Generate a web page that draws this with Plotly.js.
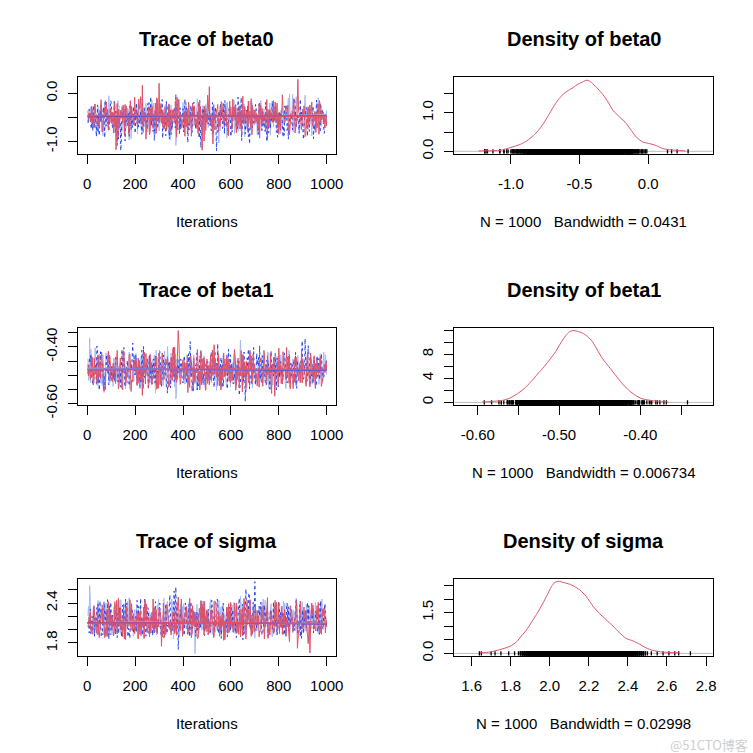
<!DOCTYPE html>
<html><head><meta charset="utf-8">
<script src="https://cdn.plot.ly/plotly-3.0.1.min.js"></script>
<style>html,body{margin:0;padding:0;background:#fff}#chart{width:753px;height:753px}</style>
</head><body><div id="chart"></div>
<script>
// ---------------- DATA ----------------
// samples at four interleaved iteration sets
const iterationsC = [3,13,23,33,43,53,63,73,83,93,103,113,123,133,143,153,163,173,183,193,203,213,223,233,243,253,263,273,283,293,303,313,323,333,343,353,363,373,383,393,403,413,423,433,443,453,463,473,483,493,503,513,523,533,543,553,563,573,583,593,603,613,623,633,643,653,663,673,683,693,703,713,723,733,743,753,763,773,783,793,803,813,823,833,843,853,863,873,883,893,903,913,923,933,943,953,963,973,983,993];
const iterationsB = [5,15,25,35,45,55,65,75,85,95,105,115,125,135,145,155,165,175,185,195,205,215,225,235,245,255,265,275,285,295,305,315,325,335,345,355,365,375,385,395,405,415,425,435,445,455,465,475,485,495,505,515,525,535,545,555,565,575,585,595,605,615,625,635,645,655,665,675,685,695,705,715,725,735,745,755,765,775,785,795,805,815,825,835,845,855,865,875,885,895,905,915,925,935,945,955,965,975,985,995];
const iterationsD = [8,18,28,38,48,58,68,78,88,98,108,118,128,138,148,158,168,178,188,198,208,218,228,238,248,258,268,278,288,298,308,318,328,338,348,358,368,378,388,398,408,418,428,438,448,458,468,478,488,498,508,518,528,538,548,558,568,578,588,598,608,618,628,638,648,658,668,678,688,698,708,718,728,738,748,758,768,778,788,798,808,818,828,838,848,858,868,878,888,898,908,918,928,938,948,958,968,978,988,998];
const iterationsA = [10,20,30,40,50,60,70,80,90,100,110,120,130,140,150,160,170,180,190,200,210,220,230,240,250,260,270,280,290,300,310,320,330,340,350,360,370,380,390,400,410,420,430,440,450,460,470,480,490,500,510,520,530,540,550,560,570,580,590,600,610,620,630,640,650,660,670,680,690,700,710,720,730,740,750,760,770,780,790,800,810,820,830,840,850,860,870,880,890,900,910,920,930,940,950,960,970,980,990,1000];

// ---- beta0 ----
const beta0_redA = [-0.42,-0.61,-0.28,-0.55,-0.71,-0.36,-0.49,-0.18,-0.63,-0.44,-0.82,-1.17,-0.33,-0.52,-0.24,-0.68,-0.47,-0.15,-0.59,-0.39,-0.74,-0.31,0.17,-0.57,-0.45,-0.86,-0.26,-0.53,-0.09,0.21,-0.62,-0.40,-0.77,-0.22,-0.50,-0.35,-0.69,-0.12,-0.46,-0.58,-0.30,-0.81,-0.43,-0.20,-0.66,-0.38,-0.55,-1.18,-0.27,-0.60,0.14,-0.48,-0.72,-0.34,-0.52,-0.17,-0.64,-0.41,-0.88,-0.29,-0.50,-0.23,-0.67,-0.44,-0.06,-0.57,-0.79,-0.37,-0.25,-0.62,-0.45,-0.93,-0.31,-0.54,-0.13,-0.70,-0.40,-0.58,-0.21,-0.85,-0.36,-0.49,-0.27,-0.65,-0.42,-0.19,-0.76,0.29,-0.51,-0.33,-0.90,-0.47,-0.24,-0.61,-0.38,-0.72,-0.15,-0.55,-0.43,-0.68];
const beta0_redB = [-0.55,-0.30,-0.64,-0.41,-0.52,-0.25,-0.78,-0.47,-0.33,-0.60,-0.39,-0.70,-0.21,-0.58,-0.44,-0.85,-0.36,-0.53,-0.27,-0.66,-0.49,-0.12,-0.62,-0.38,-0.95,-0.45,-0.31,-0.73,-0.20,-0.56,-0.43,-0.68,-0.29,-0.51,-0.80,-0.34,-0.59,-0.08,-0.48,-0.71,-0.37,-0.62,-0.26,-0.89,-0.45,-0.54,-0.19,-0.65,-0.40,-0.77,-0.32,-0.57,-1.05,-0.44,-0.23,-0.69,-0.50,-0.35,-0.61,-0.16,-0.74,-0.42,-0.58,-0.28,-0.83,-0.47,-0.36,-0.63,-0.11,-0.52,-0.40,-0.67,-0.24,-0.56,-0.79,-0.33,-0.48,-0.60,-0.18,-0.71,-0.45,-0.03,-0.59,-0.37,-0.86,-0.50,-0.29,-0.64,-0.41,-0.75,-0.26,-0.54,-0.68,-0.35,-0.49,-0.81,-0.22,-0.60,-0.39,-0.57];
const beta0_redC = [-0.36,-0.58,-0.49,-0.22,-0.67,-0.41,-0.80,-0.30,-0.54,-0.45,-0.63,-0.19,-0.51,-0.72,-0.38,-0.57,-0.26,-0.84,-0.43,-0.61,-0.33,-0.50,-0.07,-0.69,-0.40,-0.56,-0.78,-0.29,-0.47,-0.14,-0.59,-0.35,-0.73,-0.48,-0.23,-0.65,-0.42,-0.91,-0.31,-0.55,-0.44,-0.70,-0.18,-0.52,-0.39,-0.62,-0.83,-0.27,-0.50,-0.36,-0.04,-0.58,-0.46,-0.76,-0.32,-0.60,-0.21,-0.53,-0.69,-0.41,-0.57,-0.28,-0.82,-0.45,-0.35,-0.64,-0.49,-0.16,-0.71,-0.38,-0.52,-0.79,-0.25,-0.61,-0.43,-0.97,-0.34,-0.56,-0.47,-0.20,-0.66,-0.40,-0.55,-0.30,-0.74,-0.48,-0.11,-0.58,-0.37,-0.63,-0.45,-0.87,-0.29,-0.53,-0.68,-0.39,-0.60,-0.24,-0.50,-0.72];
const beta0_redD = [-0.49,-0.27,-0.70,-0.44,-0.59,-0.13,-0.52,-0.38,-0.75,-0.31,-0.56,-0.46,-0.92,-0.35,-0.61,-0.23,-0.48,-0.67,-0.40,-0.08,-0.54,-0.32,-0.64,-0.43,-0.71,-0.28,-0.57,-0.47,-0.83,-0.37,-0.21,-0.60,-0.45,-0.69,-0.34,-0.53,-0.16,-0.76,-0.42,-0.58,-0.89,-0.33,-0.62,-0.48,-0.26,-0.73,-0.40,-0.55,-0.99,-0.44,-0.37,-0.65,-0.24,-0.51,-0.80,-0.42,-0.59,-0.30,-0.68,-0.47,-0.12,-0.56,-0.39,-0.74,-0.50,-0.27,-0.63,-0.44,-0.86,-0.35,-0.58,-0.22,-0.66,-0.46,-0.33,-0.70,-0.53,-0.15,-0.61,-0.41,-0.77,-0.36,-0.52,-0.25,-0.64,-0.49,-0.82,-0.05,-0.45,-0.59,-0.31,-0.72,-0.48,-0.18,-0.57,-0.40,-0.85,-0.34,-0.62,-0.46];
const beta0_blueA = [-0.52,-0.33,-0.71,-0.45,-0.88,-0.27,-0.60,-0.41,-0.79,-0.19,-0.56,-0.37,-0.95,-1.19,-0.48,-0.30,-0.67,-0.22,-0.54,-0.83,-0.40,-0.63,-0.11,-0.58,-0.74,-0.35,-0.50,-0.98,-0.28,-0.61,-0.44,-0.70,-0.16,-0.53,-0.86,-0.39,-0.02,-0.57,-0.75,-0.32,-0.62,-1.02,-0.46,-0.25,-0.69,-0.51,-0.14,-0.80,-0.42,-0.59,-0.34,-0.73,-0.49,-1.19,-0.37,-0.55,-0.21,-0.66,-0.45,-0.90,-0.31,-0.58,-0.08,-0.68,-0.43,-0.84,-0.26,-0.52,-0.72,-0.39,-0.60,-0.18,-0.77,-0.47,-1.00,-0.35,-0.56,-0.29,-0.81,-0.50,-0.40,-0.67,-0.23,-0.95,-0.53,-0.36,-0.71,-0.44,-0.12,-0.63,-0.48,-0.89,-0.32,-0.57,-0.75,-0.26,-0.61,-0.46,-0.83,-0.38];
const beta0_blueB = [-0.40,-0.68,-0.25,-0.57,-0.82,-0.36,-0.49,-0.14,-0.63,-0.45,-0.74,-0.31,-1.08,-0.52,-0.27,-0.61,-0.43,-0.89,-0.35,-0.56,-0.20,-0.70,-0.46,-0.33,-0.65,-0.51,-0.07,-0.79,-0.39,-0.58,-0.26,-0.93,-0.48,-0.62,-0.37,-0.71,-0.54,-0.22,-0.84,-0.44,-0.60,-0.30,-0.76,-0.50,-0.18,-0.67,-0.41,-1.13,-0.55,-0.34,-0.64,-0.47,-0.87,-0.28,-0.59,-0.42,-0.73,-0.15,-0.53,-0.38,-0.80,-0.46,-0.62,-0.24,-0.98,-0.50,-0.35,-0.69,-0.44,-0.57,-0.29,-0.85,-0.40,-0.66,-0.19,-0.54,-0.72,-0.33,-0.48,-0.91,-0.37,-0.58,-0.26,-0.77,-0.45,-0.63,-0.10,-0.52,-0.83,-0.39,-0.61,-0.30,-0.70,-0.47,-0.94,-0.36,-0.55,-0.21,-0.66,-0.43];
const beta0_blueC = [-0.61,-0.39,-0.78,-0.47,-0.24,-0.66,-0.53,-0.92,-0.35,-0.58,-0.44,-0.17,-0.70,-0.50,-0.86,-0.32,-0.59,-0.41,-0.75,-0.27,-0.55,-0.63,-0.38,-0.82,-0.46,-0.21,-0.67,-0.52,-0.34,-0.73,-0.48,-0.13,-0.60,-0.40,-0.95,-0.57,-0.29,-0.69,-0.43,-0.54,-0.80,-0.36,-0.62,-0.25,-0.51,-0.74,-0.45,-0.88,-0.31,-0.58,-0.42,-0.67,-0.19,-0.56,-0.71,-0.47,-0.33,-0.84,-0.52,-0.28,-0.64,-0.40,-0.76,-0.49,-0.09,-0.60,-0.37,-0.90,-0.45,-0.55,-0.23,-0.68,-0.51,-0.35,-0.79,-0.44,-0.62,-0.16,-0.57,-0.73,-0.39,-0.53,-0.87,-0.30,-0.65,-0.48,-0.20,-0.71,-0.42,-0.59,-0.96,-0.34,-0.56,-0.46,-0.26,-0.69,-0.50,-0.81,-0.37,-0.63];
const beta0_blueD = [-0.33,-0.74,-0.51,-0.90,-0.42,-0.60,-0.29,-0.68,-0.48,-0.15,-0.57,-0.83,-0.37,-0.64,-0.45,-0.99,-0.53,-0.26,-0.71,-0.40,-0.62,-0.47,-0.85,-0.31,-0.56,-0.19,-0.66,-0.43,-0.77,-0.50,-0.36,-0.59,-0.88,-0.24,-0.54,-0.41,-0.72,-0.61,-0.30,-0.49,-0.12,-0.67,-0.45,-0.81,-0.38,-0.58,-0.93,-0.47,-0.27,-0.63,-0.52,-0.78,-0.35,-0.69,-0.44,-0.21,-0.60,-0.50,-0.86,-0.39,-0.57,-0.25,-0.73,-0.46,-0.65,-0.32,-0.54,-1.05,-0.41,-0.61,-0.48,-0.18,-0.70,-0.55,-0.37,-0.82,-0.43,-0.59,-0.28,-0.66,-0.51,-0.91,-0.34,-0.62,-0.45,-0.76,-0.22,-0.57,-0.40,-0.69,-0.53,-0.31,-0.79,-0.49,-0.64,-0.14,-0.58,-0.38,-0.72,-0.44];
const beta0_lightA = [-0.38,-0.57,-0.22,-0.66,-0.46,-0.80,-0.31,-0.53,-0.05,-0.62,-0.44,-0.73,-0.28,-0.91,-0.50,-0.35,-0.68,-0.17,-0.58,-0.41,-0.84,-0.26,-0.55,-0.70,-0.37,-0.48,-0.14,-0.64,-0.43,-0.78,-0.32,-0.59,-0.47,-0.87,-0.24,-0.61,-1.08,-0.40,-0.53,-0.19,-0.66,-0.45,-0.72,-0.30,-0.56,-0.11,-0.63,-0.38,-0.82,-0.49,-0.27,-0.60,-0.42,-0.75,-1.03,-0.33,-0.51,-0.20,-0.69,-0.46,-0.58,-0.35,-0.79,-0.25,-0.54,-0.41,-0.67,-0.16,-0.60,-0.44,-0.86,-0.29,-0.52,-0.71,-0.38,-0.63,-0.23,-0.57,-0.48,-0.76,-0.34,-0.62,-0.44,-0.10,-0.58,-0.80,-0.36,-0.51,-0.27,-0.70,-0.04,-0.46,-0.65,-0.31,-0.55,-0.20,-0.73,-0.40,-0.59,-0.35];
const beta0_lightB = [-0.61,-0.34,-0.72,-0.49,-0.27,-0.58,-0.88,-0.41,-0.66,-0.30,-0.53,-0.17,-0.62,-0.45,-0.79,-0.36,-0.56,-0.97,-0.39,-0.64,-0.28,-0.51,-0.74,-0.43,-0.21,-0.68,-0.47,-0.32,-0.85,-0.55,-0.40,-0.70,-0.25,-0.59,-0.44,-0.76,-0.35,-0.63,-0.13,-0.50,-0.81,-0.38,-0.57,-0.29,-0.67,-0.46,-0.90,-0.33,-0.54,-0.23,-0.71,-0.42,-0.60,-0.31,-0.48,-0.78,-0.37,-0.65,-0.18,-0.56,-0.44,-0.83,-0.30,-0.61,-0.50,-0.22,-0.73,-0.40,-0.58,-0.34,-0.64,-0.47,-0.15,-0.69,-0.52,-0.38,-0.87,-0.43,-0.26,-0.60,-0.49,-0.72,-0.35,-0.57,-0.01,-0.45,-0.66,-0.32,-0.80,-0.41,-0.55,-0.28,-0.62,-0.48,-0.37,-0.70,-0.09,-0.53,-0.42,-0.61];
const beta0_lightC = [-0.50,-0.29,-0.63,-0.42,-0.77,-0.34,-0.56,-0.19,-0.69,-0.47,-0.38,-0.82,-0.53,-0.26,-0.60,-0.44,-0.71,-0.33,-0.94,-0.49,-0.57,-0.23,-0.65,-0.40,-0.52,-0.80,-0.31,-0.58,-0.45,-0.12,-0.68,-0.37,-0.54,-0.75,-0.28,-0.62,-0.48,-0.89,-0.35,-0.59,-0.43,-0.18,-0.66,-0.51,-0.30,-0.73,-0.46,-0.57,-0.25,-0.85,-0.41,-0.64,-0.36,-0.55,-0.70,-0.27,-0.49,-0.61,-0.92,-0.39,-0.53,-0.14,-0.67,-0.44,-0.78,-0.32,-0.58,-0.47,-0.24,-0.63,-0.40,-0.86,-0.51,-0.35,-0.69,-0.46,-0.20,-0.60,-0.42,-0.74,-0.55,-0.30,-0.65,-0.48,-0.81,-0.37,-0.56,-0.07,-0.62,-0.43,-0.71,-0.50,-0.27,-0.59,-0.39,-0.76,-0.45,-0.64,-0.33,-0.52];
const beta0_lightD = [-0.45,-0.66,-0.34,-0.81,-0.52,-0.24,-0.60,-0.43,-0.72,-0.38,-0.57,-0.48,-0.15,-0.64,-0.40,-0.87,-0.31,-0.55,-0.69,-0.47,-0.36,-0.61,-0.79,-0.28,-0.53,-0.42,-0.67,-0.20,-0.58,-0.74,-0.44,-0.33,-0.62,-0.50,-0.96,-0.39,-0.56,-0.27,-0.70,-0.46,-0.59,-0.83,-0.35,-0.63,-0.41,-0.13,-0.54,-0.76,-0.48,-0.30,-0.65,-0.44,-0.22,-0.60,-0.85,-0.37,-0.51,-0.68,-0.42,-0.57,-0.29,-0.73,-0.49,-0.62,-0.36,-0.90,-0.45,-0.55,-0.19,-0.66,-0.43,-0.58,-0.77,-0.32,-0.61,-0.47,-0.26,-0.70,-0.53,-0.39,-0.84,-0.46,-0.60,-0.35,-0.54,-0.02,-0.67,-0.41,-0.75,-0.50,-0.28,-0.63,-0.44,-0.88,-0.37,-0.56,-0.21,-0.69,-0.47,-0.58];

// ---- beta1 ----
const beta1_redA = [-0.473,-0.508,-0.441,-0.527,-0.492,-0.418,-0.556,-0.484,-0.452,-0.519,-0.497,-0.436,-0.548,-0.471,-0.413,-0.537,-0.489,-0.462,-0.524,-0.445,-0.506,-0.478,-0.571,-0.453,-0.501,-0.429,-0.533,-0.467,-0.549,-0.422,-0.486,-0.515,-0.459,-0.542,-0.438,-0.503,-0.474,-0.342,-0.528,-0.447,-0.512,-0.561,-0.434,-0.481,-0.523,-0.409,-0.552,-0.469,-0.498,-0.443,-0.534,-0.458,-0.392,-0.507,-0.483,-0.544,-0.421,-0.494,-0.451,-0.517,-0.476,-0.553,-0.439,-0.502,-0.427,-0.531,-0.485,-0.412,-0.509,-0.463,-0.538,-0.448,-0.491,-0.424,-0.521,-0.472,-0.564,-0.437,-0.496,-0.404,-0.529,-0.457,-0.514,-0.432,-0.488,-0.547,-0.454,-0.479,-0.526,-0.441,-0.499,-0.419,-0.541,-0.468,-0.511,-0.449,-0.487,-0.532,-0.461,-0.482];
const beta1_redB = [-0.502,-0.447,-0.534,-0.481,-0.428,-0.513,-0.459,-0.551,-0.493,-0.436,-0.522,-0.468,-0.412,-0.497,-0.543,-0.457,-0.488,-0.431,-0.519,-0.476,-0.449,-0.528,-0.466,-0.504,-0.423,-0.546,-0.479,-0.512,-0.442,-0.491,-0.533,-0.461,-0.498,-0.434,-0.484,-0.518,-0.401,-0.473,-0.509,-0.487,-0.452,-0.496,-0.529,-0.463,-0.438,-0.492,-0.524,-0.417,-0.483,-0.553,-0.471,-0.429,-0.501,-0.448,-0.536,-0.477,-0.514,-0.443,-0.489,-0.458,-0.521,-0.409,-0.482,-0.541,-0.467,-0.503,-0.451,-0.527,-0.432,-0.494,-0.508,-0.474,-0.439,-0.516,-0.462,-0.499,-0.421,-0.485,-0.548,-0.453,-0.492,-0.531,-0.469,-0.507,-0.427,-0.478,-0.523,-0.458,-0.502,-0.414,-0.472,-0.539,-0.486,-0.444,-0.517,-0.461,-0.497,-0.433,-0.511,-0.468];
const beta1_redC = [-0.462,-0.515,-0.437,-0.498,-0.526,-0.454,-0.485,-0.541,-0.471,-0.429,-0.507,-0.492,-0.448,-0.535,-0.476,-0.416,-0.519,-0.483,-0.557,-0.451,-0.494,-0.439,-0.512,-0.468,-0.531,-0.487,-0.426,-0.503,-0.459,-0.545,-0.478,-0.421,-0.509,-0.464,-0.537,-0.446,-0.491,-0.525,-0.387,-0.473,-0.518,-0.456,-0.499,-0.432,-0.549,-0.481,-0.463,-0.514,-0.441,-0.488,-0.529,-0.474,-0.411,-0.496,-0.458,-0.538,-0.467,-0.505,-0.435,-0.521,-0.484,-0.449,-0.532,-0.472,-0.413,-0.499,-0.544,-0.461,-0.487,-0.426,-0.516,-0.478,-0.453,-0.539,-0.493,-0.431,-0.508,-0.466,-0.574,-0.482,-0.445,-0.511,-0.475,-0.402,-0.528,-0.459,-0.497,-0.437,-0.519,-0.486,-0.454,-0.533,-0.469,-0.422,-0.504,-0.547,-0.477,-0.441,-0.513,-0.491];
const beta1_redD = [-0.489,-0.431,-0.522,-0.467,-0.508,-0.444,-0.538,-0.476,-0.415,-0.503,-0.458,-0.529,-0.483,-0.439,-0.551,-0.472,-0.497,-0.425,-0.514,-0.461,-0.536,-0.448,-0.501,-0.419,-0.488,-0.527,-0.455,-0.494,-0.433,-0.546,-0.469,-0.507,-0.442,-0.523,-0.481,-0.406,-0.517,-0.463,-0.532,-0.451,-0.492,-0.428,-0.543,-0.474,-0.509,-0.457,-0.486,-0.534,-0.438,-0.499,-0.465,-0.518,-0.447,-0.489,-0.424,-0.552,-0.478,-0.503,-0.441,-0.526,-0.471,-0.436,-0.511,-0.485,-0.559,-0.452,-0.498,-0.419,-0.531,-0.467,-0.494,-0.542,-0.458,-0.412,-0.506,-0.477,-0.523,-0.446,-0.489,-0.535,-0.462,-0.417,-0.513,-0.471,-0.548,-0.484,-0.437,-0.502,-0.459,-0.527,-0.493,-0.444,-0.518,-0.476,-0.431,-0.509,-0.462,-0.539,-0.485,-0.452];
const beta1_blueA = [-0.438,-0.521,-0.476,-0.397,-0.553,-0.459,-0.502,-0.427,-0.534,-0.468,-0.513,-0.446,-0.491,-0.542,-0.418,-0.483,-0.524,-0.457,-0.386,-0.499,-0.472,-0.548,-0.436,-0.508,-0.479,-0.429,-0.531,-0.464,-0.497,-0.412,-0.539,-0.466,-0.517,-0.451,-0.487,-0.401,-0.512,-0.478,-0.443,-0.527,-0.461,-0.504,-0.381,-0.519,-0.471,-0.552,-0.433,-0.488,-0.449,-0.514,-0.482,-0.421,-0.543,-0.458,-0.496,-0.437,-0.522,-0.469,-0.408,-0.493,-0.531,-0.452,-0.484,-0.507,-0.428,-0.592,-0.473,-0.498,-0.441,-0.518,-0.463,-0.396,-0.529,-0.481,-0.447,-0.511,-0.489,-0.432,-0.551,-0.467,-0.501,-0.439,-0.523,-0.476,-0.458,-0.534,-0.419,-0.492,-0.453,-0.509,-0.371,-0.484,-0.538,-0.462,-0.497,-0.431,-0.516,-0.474,-0.488,-0.448];
const beta1_blueB = [-0.478,-0.426,-0.513,-0.459,-0.528,-0.417,-0.491,-0.547,-0.452,-0.503,-0.466,-0.519,-0.438,-0.487,-0.409,-0.511,-0.463,-0.532,-0.481,-0.434,-0.497,-0.448,-0.524,-0.398,-0.476,-0.541,-0.457,-0.493,-0.429,-0.508,-0.472,-0.443,-0.502,-0.563,-0.454,-0.489,-0.421,-0.517,-0.468,-0.499,-0.431,-0.529,-0.484,-0.447,-0.506,-0.461,-0.537,-0.412,-0.494,-0.471,-0.518,-0.442,-0.501,-0.469,-0.389,-0.533,-0.458,-0.492,-0.549,-0.436,-0.483,-0.512,-0.451,-0.571,-0.467,-0.418,-0.504,-0.459,-0.526,-0.402,-0.488,-0.437,-0.514,-0.473,-0.536,-0.448,-0.497,-0.479,-0.422,-0.521,-0.461,-0.493,-0.432,-0.527,-0.469,-0.502,-0.453,-0.546,-0.481,-0.439,-0.509,-0.457,-0.413,-0.498,-0.472,-0.531,-0.441,-0.486,-0.518,-0.463];
const beta1_blueC = [-0.495,-0.452,-0.531,-0.474,-0.419,-0.506,-0.461,-0.543,-0.488,-0.435,-0.517,-0.479,-0.446,-0.524,-0.467,-0.402,-0.498,-0.536,-0.457,-0.483,-0.428,-0.512,-0.471,-0.549,-0.493,-0.441,-0.509,-0.464,-0.527,-0.485,-0.416,-0.501,-0.456,-0.538,-0.477,-0.433,-0.522,-0.469,-0.491,-0.447,-0.514,-0.482,-0.424,-0.506,-0.559,-0.462,-0.495,-0.438,-0.528,-0.473,-0.451,-0.518,-0.486,-0.413,-0.503,-0.466,-0.544,-0.479,-0.427,-0.511,-0.458,-0.497,-0.532,-0.444,-0.485,-0.521,-0.468,-0.408,-0.499,-0.476,-0.535,-0.453,-0.489,-0.431,-0.515,-0.472,-0.548,-0.461,-0.494,-0.439,-0.507,-0.478,-0.421,-0.524,-0.466,-0.501,-0.443,-0.537,-0.482,-0.455,-0.513,-0.468,-0.395,-0.492,-0.529,-0.459,-0.504,-0.436,-0.519,-0.477];
const beta1_blueD = [-0.446,-0.507,-0.468,-0.529,-0.433,-0.491,-0.552,-0.472,-0.418,-0.514,-0.481,-0.437,-0.523,-0.459,-0.496,-0.541,-0.447,-0.505,-0.426,-0.488,-0.532,-0.463,-0.411,-0.499,-0.457,-0.519,-0.484,-0.442,-0.536,-0.469,-0.503,-0.429,-0.492,-0.475,-0.545,-0.451,-0.516,-0.438,-0.487,-0.524,-0.465,-0.498,-0.432,-0.557,-0.479,-0.421,-0.509,-0.466,-0.534,-0.455,-0.492,-0.417,-0.526,-0.474,-0.501,-0.443,-0.538,-0.461,-0.486,-0.428,-0.513,-0.469,-0.449,-0.527,-0.483,-0.504,-0.439,-0.548,-0.472,-0.496,-0.423,-0.511,-0.458,-0.489,-0.533,-0.467,-0.414,-0.502,-0.476,-0.541,-0.452,-0.518,-0.484,-0.436,-0.509,-0.463,-0.528,-0.447,-0.495,-0.379,-0.487,-0.521,-0.459,-0.503,-0.441,-0.536,-0.478,-0.424,-0.512,-0.469];
const beta1_lightA = [-0.368,-0.502,-0.457,-0.534,-0.426,-0.493,-0.561,-0.448,-0.512,-0.477,-0.439,-0.521,-0.468,-0.503,-0.417,-0.548,-0.481,-0.452,-0.509,-0.463,-0.494,-0.532,-0.436,-0.484,-0.498,-0.459,-0.523,-0.428,-0.491,-0.472,-0.514,-0.447,-0.541,-0.479,-0.421,-0.501,-0.583,-0.456,-0.487,-0.443,-0.518,-0.466,-0.497,-0.451,-0.529,-0.482,-0.432,-0.507,-0.461,-0.489,-0.454,-0.522,-0.476,-0.553,-0.438,-0.504,-0.469,-0.527,-0.458,-0.492,-0.511,-0.441,-0.483,-0.376,-0.519,-0.467,-0.499,-0.453,-0.544,-0.478,-0.462,-0.508,-0.429,-0.486,-0.533,-0.471,-0.502,-0.449,-0.484,-0.517,-0.437,-0.493,-0.547,-0.468,-0.512,-0.457,-0.496,-0.431,-0.524,-0.479,-0.473,-0.501,-0.448,-0.531,-0.489,-0.442,-0.513,-0.476,-0.459,-0.497];
const beta1_lightB = [-0.518,-0.409,-0.483,-0.452,-0.539,-0.466,-0.427,-0.504,-0.458,-0.526,-0.487,-0.441,-0.513,-0.469,-0.547,-0.449,-0.498,-0.419,-0.482,-0.521,-0.461,-0.503,-0.434,-0.528,-0.472,-0.491,-0.446,-0.512,-0.563,-0.437,-0.479,-0.524,-0.457,-0.398,-0.501,-0.468,-0.541,-0.443,-0.509,-0.484,-0.451,-0.494,-0.532,-0.466,-0.428,-0.503,-0.459,-0.517,-0.438,-0.489,-0.512,-0.457,-0.421,-0.498,-0.473,-0.536,-0.447,-0.492,-0.519,-0.442,-0.481,-0.529,-0.463,-0.502,-0.426,-0.488,-0.558,-0.471,-0.453,-0.514,-0.477,-0.439,-0.523,-0.462,-0.499,-0.418,-0.493,-0.534,-0.468,-0.449,-0.507,-0.474,-0.432,-0.501,-0.542,-0.458,-0.487,-0.444,-0.521,-0.479,-0.452,-0.503,-0.466,-0.528,-0.437,-0.491,-0.463,-0.511,-0.482,-0.428];
const beta1_lightC = [-0.441,-0.526,-0.478,-0.403,-0.511,-0.462,-0.537,-0.489,-0.432,-0.504,-0.468,-0.522,-0.451,-0.493,-0.544,-0.437,-0.481,-0.515,-0.459,-0.497,-0.423,-0.508,-0.474,-0.539,-0.456,-0.488,-0.527,-0.444,-0.501,-0.466,-0.532,-0.479,-0.415,-0.496,-0.453,-0.518,-0.483,-0.568,-0.462,-0.507,-0.439,-0.491,-0.524,-0.472,-0.446,-0.512,-0.485,-0.431,-0.503,-0.547,-0.467,-0.494,-0.437,-0.521,-0.478,-0.452,-0.509,-0.471,-0.541,-0.463,-0.498,-0.426,-0.513,-0.482,-0.449,-0.534,-0.469,-0.503,-0.418,-0.492,-0.527,-0.458,-0.486,-0.441,-0.519,-0.474,-0.551,-0.463,-0.497,-0.433,-0.481,-0.523,-0.457,-0.494,-0.412,-0.509,-0.466,-0.538,-0.485,-0.448,-0.516,-0.471,-0.502,-0.439,-0.529,-0.461,-0.488,-0.424,-0.507,-0.476];
const beta1_lightD = [-0.497,-0.458,-0.514,-0.437,-0.483,-0.529,-0.469,-0.421,-0.506,-0.476,-0.539,-0.452,-0.491,-0.513,-0.443,-0.487,-0.462,-0.548,-0.471,-0.429,-0.508,-0.481,-0.519,-0.455,-0.497,-0.433,-0.526,-0.468,-0.411,-0.502,-0.463,-0.537,-0.484,-0.447,-0.518,-0.472,-0.426,-0.509,-0.493,-0.457,-0.531,-0.467,-0.441,-0.503,-0.482,-0.552,-0.459,-0.496,-0.432,-0.514,-0.476,-0.527,-0.449,-0.488,-0.519,-0.463,-0.427,-0.505,-0.473,-0.542,-0.455,-0.492,-0.518,-0.446,-0.536,-0.478,-0.501,-0.439,-0.487,-0.462,-0.524,-0.471,-0.434,-0.507,-0.466,-0.546,-0.483,-0.451,-0.512,-0.477,-0.428,-0.503,-0.538,-0.462,-0.494,-0.442,-0.517,-0.475,-0.456,-0.523,-0.489,-0.437,-0.514,-0.468,-0.501,-0.447,-0.532,-0.479,-0.418,-0.494];

// ---- sigma ----
const sigma_redA = [2.08,1.95,2.25,2.02,1.88,2.31,2.12,1.97,2.40,2.05,1.91,2.18,2.47,2.00,2.22,1.85,2.10,2.35,1.98,2.14,2.28,1.93,2.06,2.44,2.01,1.89,2.20,2.11,1.96,2.33,1.75,2.15,2.38,2.03,1.92,2.24,2.09,2.49,1.99,2.17,2.27,1.94,2.12,2.36,2.04,1.87,2.21,2.08,2.42,1.97,2.13,2.30,1.90,2.07,2.26,2.00,1.84,2.19,2.39,2.05,1.96,2.23,2.11,1.89,2.34,2.02,2.16,2.45,1.93,2.10,2.29,1.98,2.14,1.86,2.37,2.06,2.20,1.95,2.41,2.03,2.12,2.25,1.91,2.08,2.32,1.99,2.18,1.88,2.43,2.01,2.15,1.94,1.65,2.22,2.07,2.36,1.97,2.11,2.28,2.04];
const sigma_redB = [2.15,1.99,2.30,2.06,1.92,2.21,2.37,2.03,1.90,2.26,2.11,2.42,1.96,2.17,2.05,1.86,2.28,2.13,2.39,1.98,2.09,2.24,1.91,2.34,2.07,2.19,1.95,2.46,2.02,2.14,2.27,1.89,2.10,2.32,2.00,2.22,1.94,2.40,2.08,1.97,2.18,2.35,2.04,1.88,2.25,2.12,1.93,2.43,2.01,2.16,1.92,2.29,2.09,2.38,1.98,2.20,2.06,1.85,2.31,2.13,2.02,2.40,1.95,2.23,2.10,2.47,1.99,2.17,1.90,2.33,2.07,2.21,1.97,2.36,2.04,1.87,2.26,2.12,2.44,2.00,2.19,1.93,2.30,2.08,1.82,2.24,2.14,2.39,1.96,2.11,2.34,2.03,1.91,2.27,2.15,1.98,2.41,2.06,2.20,1.95];
const sigma_redC = [2.04,2.27,1.93,2.16,2.39,2.01,2.12,1.88,2.31,2.08,2.20,1.97,2.44,2.05,2.14,1.91,2.35,2.10,1.99,2.24,2.07,1.86,2.29,2.13,2.41,1.96,2.18,2.03,2.33,1.94,2.22,2.09,1.89,2.37,2.11,2.00,2.26,1.92,2.15,2.46,2.02,2.19,1.95,2.32,2.06,2.23,1.87,2.14,2.38,2.01,2.28,1.98,2.10,2.43,2.05,1.90,2.21,2.12,2.34,1.96,2.17,2.04,2.40,1.93,2.25,2.09,1.86,2.30,2.13,2.00,2.36,2.07,1.97,2.22,2.15,2.48,1.92,2.11,2.27,2.03,1.94,2.35,2.09,2.19,1.88,2.30,2.05,2.42,1.99,2.16,2.08,2.25,1.79,2.13,2.37,2.01,2.20,1.95,2.31,2.10];
const sigma_redD = [2.19,2.02,2.36,1.95,2.13,2.28,2.06,1.91,2.42,2.10,1.98,2.23,2.07,2.33,1.89,2.17,2.04,2.45,2.12,1.94,2.26,2.01,2.15,1.87,2.38,2.09,2.21,1.97,2.30,2.05,2.14,2.40,1.93,2.18,2.08,2.27,1.99,2.35,2.03,1.90,2.24,2.11,2.47,1.96,2.16,2.02,2.32,2.09,1.92,2.29,2.06,2.18,1.88,2.37,2.13,2.00,2.25,2.10,1.95,2.41,2.08,2.20,2.03,2.31,1.91,2.14,2.44,2.05,2.22,1.97,2.12,1.89,2.34,2.07,2.19,2.01,2.28,1.94,2.16,2.39,2.04,2.23,1.98,2.11,2.36,2.06,2.17,1.72,2.29,2.09,2.21,1.96,2.13,2.40,2.02,2.25,2.08,1.93,2.32,2.14];
const sigma_blueA = [2.01,2.20,1.90,2.33,2.07,1.96,2.42,2.12,1.86,2.25,2.05,2.38,1.94,2.16,2.03,2.46,1.89,2.21,2.10,1.98,2.30,2.08,1.92,2.48,2.13,2.00,2.26,1.95,2.17,2.36,2.04,1.88,2.23,2.11,1.97,2.31,2.64,1.70,2.19,2.06,2.40,1.93,2.14,2.02,2.27,1.99,2.09,2.35,1.91,2.18,2.05,2.44,1.96,2.22,2.10,1.87,2.29,2.03,2.15,2.39,1.94,2.12,2.32,2.00,1.85,2.24,2.08,2.45,1.98,2.72,2.06,2.20,1.92,2.37,2.11,2.01,2.28,1.95,2.16,2.43,2.03,2.19,1.90,2.34,2.09,1.97,2.25,2.13,1.89,2.30,2.07,2.41,1.96,2.17,2.02,2.26,1.93,2.14,2.35,2.05];
const sigma_blueB = [2.12,1.94,2.28,2.05,2.38,1.98,2.18,2.08,2.45,1.92,2.22,2.03,1.88,2.33,2.14,2.00,2.40,1.95,2.25,2.10,1.97,2.35,2.06,2.19,1.90,2.30,2.11,1.99,2.42,2.04,2.17,1.93,2.29,2.07,2.52,2.13,1.96,2.36,2.02,2.23,1.91,2.15,2.38,2.01,2.27,1.95,2.09,2.44,1.99,2.20,2.31,1.94,2.14,2.05,2.39,1.97,2.24,2.10,1.89,2.34,2.06,2.18,2.00,2.47,2.11,1.93,2.26,2.55,2.04,2.32,1.98,2.15,2.41,2.03,2.21,1.90,2.30,2.08,2.37,1.96,2.13,2.27,1.92,2.40,2.07,2.19,1.99,2.33,2.10,1.87,2.24,2.02,2.36,2.12,1.95,2.28,2.06,2.43,2.00,2.16];
const sigma_blueC = [2.09,2.31,1.97,2.18,2.04,2.43,1.92,2.24,2.11,2.36,1.99,2.15,2.28,2.06,1.89,2.39,2.13,2.02,2.26,1.95,2.20,2.08,2.47,1.98,2.17,2.33,2.01,1.91,2.23,2.12,2.40,2.05,2.19,1.94,2.30,2.10,2.58,2.00,2.14,2.27,1.96,2.21,2.07,2.42,2.11,1.90,2.25,2.03,2.35,2.16,2.08,1.93,2.29,2.13,2.46,2.02,2.19,1.97,2.32,2.06,2.22,2.10,1.88,2.37,2.04,2.15,2.61,2.26,1.99,2.41,2.12,2.05,2.28,1.95,2.18,2.34,2.09,2.01,2.23,1.92,2.30,2.14,2.04,2.38,1.98,2.20,2.11,2.45,2.06,2.17,1.94,2.29,2.10,2.02,2.33,2.13,1.97,2.24,2.07,2.39];
const sigma_blueD = [1.95,2.16,2.35,2.03,2.22,1.91,2.11,2.29,2.00,2.41,2.14,1.93,2.25,2.08,2.37,2.01,2.18,1.87,2.31,2.10,2.44,2.02,2.19,2.07,2.27,1.94,2.13,2.34,2.05,2.20,1.92,2.12,2.39,2.04,2.16,1.98,2.49,2.09,2.30,1.96,2.23,2.07,1.89,2.33,2.14,2.26,2.02,2.17,2.43,2.00,2.12,2.36,2.01,2.21,1.94,2.15,2.40,2.06,2.24,1.99,2.30,1.96,2.19,2.09,2.38,2.03,2.12,2.48,1.92,2.25,2.07,2.35,2.00,2.14,2.28,1.97,2.18,2.42,2.05,2.11,2.26,1.91,2.21,2.04,2.32,2.09,2.16,1.95,2.37,2.03,2.13,2.20,1.99,2.31,2.08,2.17,2.39,2.01,2.23,2.10];
const sigma_lightA = [2.66,2.04,2.27,1.93,2.15,2.38,2.01,1.89,2.22,2.10,2.34,1.97,2.13,2.45,2.05,1.91,2.19,2.30,2.00,2.14,1.88,2.24,2.08,2.40,1.95,2.17,2.03,2.33,1.92,2.21,2.11,2.47,1.99,2.16,2.06,1.86,2.29,2.12,2.39,1.98,2.20,2.02,2.35,1.94,1.64,2.23,2.09,2.42,2.00,2.15,2.31,1.96,2.18,2.07,2.44,1.90,2.26,2.04,2.13,2.37,1.99,2.21,2.10,2.50,1.93,2.16,2.32,2.02,2.19,1.87,2.28,2.08,2.41,1.97,2.14,2.25,2.01,2.36,1.92,2.18,2.06,2.43,1.95,2.22,2.11,2.30,1.98,2.15,2.39,2.03,2.24,1.91,2.12,2.33,2.05,2.20,1.94,2.46,2.09,2.17];
const sigma_lightB = [2.35,1.96,2.20,2.08,2.44,2.01,2.14,1.90,2.30,2.06,2.22,1.98,2.39,2.11,1.93,2.26,2.04,2.48,2.13,1.95,2.32,2.09,2.18,1.87,2.40,2.03,2.24,2.12,1.97,2.36,2.07,2.21,1.92,2.43,2.10,2.00,2.28,2.15,1.89,2.33,2.05,2.19,2.41,1.99,2.12,2.27,1.94,2.38,2.06,2.17,2.02,2.45,2.11,1.96,2.25,2.08,2.34,1.91,2.20,2.04,2.37,2.13,1.98,2.29,2.07,2.42,2.01,2.16,1.93,2.31,2.10,2.23,2.00,2.46,2.09,1.95,2.27,2.14,2.35,1.98,2.18,2.05,2.40,2.12,1.92,2.26,2.08,2.32,2.01,2.21,1.97,2.38,2.11,2.03,2.29,2.16,1.94,2.43,2.07,2.22];
const sigma_lightC = [2.21,2.42,2.07,2.16,1.95,2.30,2.11,2.38,2.02,2.19,1.92,2.27,2.09,2.44,2.14,1.98,2.35,2.05,2.22,1.90,2.13,2.31,2.00,2.18,2.40,2.06,1.94,2.28,2.12,2.37,2.03,2.20,1.97,2.33,2.15,2.46,2.08,1.91,2.25,2.10,2.39,2.01,2.17,2.05,2.29,1.96,2.21,2.12,2.43,2.04,2.16,2.34,1.93,2.24,2.09,2.00,2.36,2.14,1.97,2.27,2.07,2.41,2.18,2.02,2.32,1.95,2.13,2.23,2.05,2.38,2.19,1.99,2.30,2.11,2.44,2.06,2.16,1.89,2.28,2.09,2.35,2.03,2.20,2.14,1.96,2.31,2.10,2.47,2.04,2.18,2.26,1.98,2.34,2.12,2.08,2.41,2.01,2.22,2.15,2.36];
const sigma_lightD = [2.12,1.98,2.33,2.06,2.25,2.15,1.92,2.40,2.09,2.29,2.03,2.18,2.36,1.96,2.21,2.11,2.43,2.05,2.16,2.30,1.99,2.23,2.14,2.37,2.02,2.27,1.95,2.19,2.08,2.45,2.17,2.04,2.32,2.13,1.97,2.41,2.07,2.24,2.00,2.35,2.14,2.28,1.93,2.20,2.10,2.38,2.06,1.99,2.31,2.16,2.25,2.09,2.42,2.02,2.18,2.34,1.96,2.13,2.27,2.05,2.22,1.94,2.36,2.11,2.01,2.29,2.17,2.44,2.08,2.20,2.03,2.33,2.15,1.97,2.26,2.12,2.39,2.06,2.19,2.31,2.10,2.24,2.00,2.37,2.14,1.95,2.28,2.08,2.21,2.42,2.07,2.17,2.35,2.02,2.25,2.11,2.30,2.04,2.19,2.13];

// lowess smooth lines (knots)
const smoothIter = [1,250,500,750,1000];
const beta0_smoothRed = [-0.47,-0.46,-0.47,-0.47,-0.48];
const beta0_smoothBlue = [-0.48,-0.47,-0.47,-0.47,-0.47];
const beta0_smoothLight = [-0.47,-0.47,-0.47,-0.47,-0.45];
const beta1_smoothRed = [-0.480,-0.480,-0.478,-0.480,-0.480];
const beta1_smoothBlue = [-0.480,-0.479,-0.480,-0.481,-0.481];
const beta1_smoothLight = [-0.476,-0.477,-0.480,-0.481,-0.481];
const sigma_smoothRed = [2.10,2.10,2.11,2.10,2.09];
const sigma_smoothBlue = [2.105,2.105,2.105,2.100,2.085];
const sigma_smoothLight = [2.10,2.11,2.10,2.10,2.09];

// density curves
const beta0_densX = [-1.234,-1.077,-1.005,-0.932,-0.884,-0.836,-0.800,-0.763,-0.727,-0.691,-0.655,-0.618,-0.582,-0.546,-0.510,-0.473,-0.449,-0.425,-0.401,-0.365,-0.329,-0.292,-0.256,-0.208,-0.159,-0.123,-0.087,-0.039,0.010,0.058,0.106,0.155,0.203,0.271];
const beta0_densY = [0.01,0.026,0.095,0.18,0.27,0.41,0.54,0.72,0.93,1.15,1.34,1.49,1.58,1.66,1.75,1.81,1.85,1.82,1.75,1.62,1.47,1.28,1.06,0.89,0.72,0.54,0.37,0.24,0.20,0.15,0.07,0.04,0.026,0.01];
const beta1_densX = [-0.5947,-0.5816,-0.5694,-0.5612,-0.5510,-0.5429,-0.5347,-0.5265,-0.5184,-0.5102,-0.5041,-0.4980,-0.4918,-0.4869,-0.4829,-0.4776,-0.4714,-0.4653,-0.4592,-0.4531,-0.4469,-0.4388,-0.4306,-0.4224,-0.4143,-0.4061,-0.3980,-0.3898,-0.3816,-0.3735,-0.3653];
const beta1_densY = [0.05,0.17,0.34,0.67,1.46,2.30,3.42,4.71,5.94,7.34,8.46,9.86,11.09,11.76,11.93,11.82,11.54,10.98,10.14,8.74,7.34,5.94,4.54,3.14,2.02,1.18,0.62,0.39,0.22,0.17,0.05];
const sigma_densX = [1.643,1.694,1.745,1.796,1.830,1.855,1.881,1.906,1.932,1.957,1.983,2.009,2.026,2.048,2.068,2.094,2.119,2.153,2.187,2.221,2.255,2.289,2.323,2.357,2.391,2.426,2.460,2.494,2.528,2.579,2.664];
const sigma_densY = [0.02,0.05,0.14,0.26,0.425,0.64,0.86,1.14,1.43,1.74,2.09,2.46,2.61,2.65,2.61,2.56,2.49,2.34,2.09,1.74,1.46,1.24,1.01,0.76,0.55,0.46,0.34,0.20,0.11,0.05,0.02];

const paramNames = ['beta0','beta1','sigma'];
const bandwidths = ['0.0431','0.006734','0.02998'];
const traceTicks = [0,200,400,600,800,1000];
const traceTickText = ['0','200','400','600','800','1000'];
const beta0_traceYTicks = [-1.0,-0.5,0.0];
const beta0_traceYText = ['-1.0','','0.0'];
const beta1_traceYTicks = [-0.60,-0.55,-0.50,-0.45,-0.40,-0.35];
const beta1_traceYText = ['-0.60','','','','-0.40',''];
const sigma_traceYTicks = [1.8,2.0,2.2,2.4,2.6];
const sigma_traceYText = ['1.8','','','2.4',''];
const beta0_densXTicks = [-1.0,-0.5,0.0];
const beta0_densXText = ['-1.0','-0.5','0.0'];
const beta1_densXTicks = [-0.60,-0.55,-0.50,-0.45,-0.40,-0.35];
const beta1_densXText = ['-0.60','','-0.50','','-0.40',''];
const sigma_densXTicks = [1.6,1.8,2.0,2.2,2.4,2.6,2.8];
const sigma_densXText = ['1.6','1.8','2.0','2.2','2.4','2.6','2.8'];
const beta0_densYTicks = [0,0.5,1.0,1.5];
const beta0_densYText = ['0.0','','1.0',''];
const beta1_densYTicks = [0,2,4,6,8,10,12];
const beta1_densYText = ['0','','4','','8','',''];
const sigma_densYTicks = [0,0.5,1.0,1.5,2.0,2.5];
const sigma_densYText = ['0.0','','','1.5','',''];

// ---------------- STYLE ----------------
const W = 753;
const FONT = 'Liberation Sans, Arial, Helvetica, sans-serif';
const RED = '#DF536B', BLUE = '#2244EE', LIGHT = '#A9BBF2';
const px = v => v / W, py = v => 1 - v / W;

// merge the four read-off sets of one chain in iteration order
function chain(a, b, c, d) {
  const x = [], y = [];
  for (let i = 0; i < iterationsA.length; i++) {
    x.push(iterationsC[i]); y.push(c[i]);
    x.push(iterationsB[i]); y.push(b[i]);
    x.push(iterationsD[i]); y.push(d[i]);
    x.push(iterationsA[i]); y.push(a[i]);
  }
  return {x, y};
}

const panels = [
  {red: chain(beta0_redA, beta0_redB, beta0_redC, beta0_redD),
   blue: chain(beta0_blueA, beta0_blueB, beta0_blueC, beta0_blueD),
   light: chain(beta0_lightA, beta0_lightB, beta0_lightC, beta0_lightD),
   sRed: beta0_smoothRed, sBlue: beta0_smoothBlue, sLight: beta0_smoothLight,
   dx: beta0_densX, dy: beta0_densY,
   tyT: beta0_traceYTicks, tyL: beta0_traceYText, tyR: [-1.265, 0.346],
   dxT: beta0_densXTicks, dxL: beta0_densXText, dxR: [-1.412, 0.469],
   dyT: beta0_densYTicks, dyL: beta0_densYText, dyR: [-0.078, 1.94]},
  {red: chain(beta1_redA, beta1_redB, beta1_redC, beta1_redD),
   blue: chain(beta1_blueA, beta1_blueB, beta1_blueC, beta1_blueD),
   light: chain(beta1_lightA, beta1_lightB, beta1_lightC, beta1_lightD),
   sRed: beta1_smoothRed, sBlue: beta1_smoothBlue, sLight: beta1_smoothLight,
   dx: beta1_densX, dy: beta1_densY,
   tyT: beta1_traceYTicks, tyL: beta1_traceYText, tyR: [-0.606, -0.332],
   dxT: beta1_densXTicks, dxL: beta1_densXText, dxR: [-0.629, -0.311],
   dyT: beta1_densYTicks, dyL: beta1_densYText, dyR: [-0.477, 12.41]},
  {red: chain(sigma_redA, sigma_redB, sigma_redC, sigma_redD),
   blue: chain(sigma_blueA, sigma_blueB, sigma_blueC, sigma_blueD),
   light: chain(sigma_lightA, sigma_lightB, sigma_lightC, sigma_lightD),
   sRed: sigma_smoothRed, sBlue: sigma_smoothBlue, sLight: sigma_smoothLight,
   dx: sigma_densX, dy: sigma_densY,
   tyT: sigma_traceYTicks, tyL: sigma_traceYText, tyR: [1.6, 2.765],
   dxT: sigma_densXTicks, dxL: sigma_densXText, dxR: [1.511, 2.834],
   dyT: sigma_densYTicks, dyL: sigma_densYText, dyR: [-0.106, 2.746]}
];

const data = [];
const layout = {
  width: W, height: W, margin: {l:0, r:0, t:0, b:0},
  paper_bgcolor: '#fff', plot_bgcolor: '#fff', showlegend: false,
  font: {family: FONT, size: 15, color: '#000'},
  annotations: [], shapes: []
};

function axis(dom, range, tv, tt, isY, anchor) {
  return {
    domain: dom, range: range, anchor: anchor, tickmode: 'array', tickvals: tv, ticktext: tt,
    showline: true, mirror: true, linecolor: '#000', linewidth: 1,
    ticks: 'outside', ticklen: 9, tickwidth: 1, tickcolor: '#000',
    showgrid: false, zeroline: false, fixedrange: true,
    tickfont: {family: FONT, size: 15, color: '#000'},
    tickangle: isY ? -90 : 0, ticklabelstandoff: isY ? 5 : 7
  };
}

for (let r = 0; r < 3; r++) {
  const d = panels[r];
  const top = r * 251 + 76.7, bot = r * 251 + 154.3;
  const yDom = [py(bot), py(top)];
  const colL = [px(77.7), px(336.2)], colR = [px(454.2), px(712.7)];
  const tIdx = 2 * r + 1, dIdx = 2 * r + 2;
  const tx = tIdx === 1 ? 'x' : 'x' + tIdx, ty = tIdx === 1 ? 'y' : 'y' + tIdx;
  const dxA = 'x' + dIdx, dyA = 'y' + dIdx;
  layout[tIdx === 1 ? 'xaxis' : 'xaxis' + tIdx] = axis(colL, [-40, 1040], traceTicks, traceTickText, false, ty);
  layout[tIdx === 1 ? 'yaxis' : 'yaxis' + tIdx] = axis(yDom, d.tyR, d.tyT, d.tyL, true, tx);
  layout['xaxis' + dIdx] = axis(colR, d.dxR, d.dxT, d.dxL, false, dyA);
  layout['yaxis' + dIdx] = axis(yDom, d.dyR, d.dyT, d.dyL, true, dxA);

  // trace lines
  data.push({type:'scatter', mode:'lines', x: d.light.x, y: d.light.y, xaxis: tx, yaxis: ty,
             line: {color: LIGHT, width: 1}, hoverinfo: 'skip'});
  data.push({type:'scatter', mode:'lines', x: d.blue.x, y: d.blue.y, xaxis: tx, yaxis: ty,
             line: {color: BLUE, width: 1, dash: '3px,3px'}, hoverinfo: 'skip'});
  data.push({type:'scatter', mode:'lines', x: d.red.x, y: d.red.y, xaxis: tx, yaxis: ty,
             line: {color: RED, width: 1}, hoverinfo: 'skip'});
  // smooth lines
  [[d.sLight, LIGHT], [d.sBlue, BLUE], [d.sRed, RED]].forEach(([s, c]) => {
    data.push({type:'scatter', mode:'lines', x: smoothIter, y: s, xaxis: tx, yaxis: ty,
               line: {color: c, width: 1.5, shape: 'spline'}, hoverinfo: 'skip'});
  });

  // density: zero line, rug of samples, curve
  layout.shapes.push({type:'line', xref: dxA + ' domain', yref: dyA, x0: 0, x1: 1, y0: 0, y1: 0,
                      line: {color: '#BEBEBE', width: 1}, layer: 'below'});
  const rug = d.red.y.concat(d.blue.y, d.light.y);
  data.push({type:'scatter', mode:'markers', x: rug, y: rug.map(() => 0), xaxis: dxA, yaxis: dyA,
             marker: {symbol: 'line-ns-open', size: 3, color: '#000', line: {color: '#000', width: 1.3}},
             hoverinfo: 'skip'});
  data.push({type:'scatter', mode:'lines', x: d.dx, y: d.dy, xaxis: dxA, yaxis: dyA,
             line: {color: RED, width: 1, shape: 'spline', smoothing: 0.6}, hoverinfo: 'skip'});

  // titles
  const rowTop = r * 251;
  layout.annotations.push({text: '<b>Trace of ' + paramNames[r] + '</b>', xref: 'paper', yref: 'paper',
    x: px(207), y: py(rowTop + 39), xanchor: 'center', yanchor: 'middle', showarrow: false,
    font: {family: FONT, size: 20, color: '#000'}});
  layout.annotations.push({text: '<b>Density of ' + paramNames[r] + '</b>', xref: 'paper', yref: 'paper',
    x: px(583.5), y: py(rowTop + 39), xanchor: 'center', yanchor: 'middle', showarrow: false,
    font: {family: FONT, size: 20, color: '#000'}});
  layout.annotations.push({text: 'Iterations', xref: 'paper', yref: 'paper',
    x: px(207), y: py(rowTop + 221.5), xanchor: 'center', yanchor: 'middle', showarrow: false,
    font: {family: FONT, size: 15, color: '#000'}});
  layout.annotations.push({text: 'N = 1000\u00A0\u00A0\u00A0Bandwidth = ' + bandwidths[r], xref: 'paper', yref: 'paper',
    x: px(583.5), y: py(rowTop + 221.5), xanchor: 'center', yanchor: 'middle', showarrow: false,
    font: {family: FONT, size: 15, color: '#000'}});
}

layout.annotations.push({text: '@51CTO博客', xref: 'paper', yref: 'paper', x: px(750), y: py(744),
  xanchor: 'right', yanchor: 'middle', showarrow: false,
  font: {family: 'Noto Sans CJK SC, sans-serif', size: 13, color: '#cfcfcf'}});

Plotly.newPlot('chart', data, layout, {staticPlot: true, displayModeBar: false});
</script>
</body></html>
